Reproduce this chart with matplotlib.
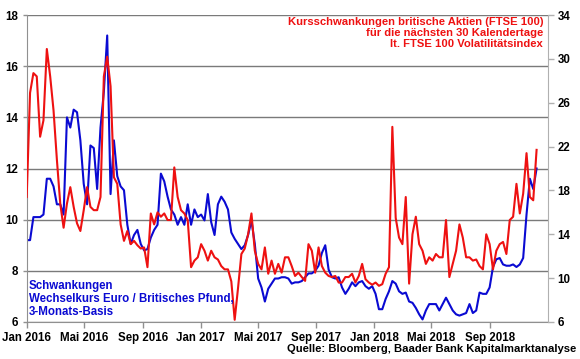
import matplotlib
matplotlib.use("Agg")
import matplotlib.pyplot as plt
import matplotlib.dates as mdates
import pandas as pd
import numpy as np

plt.rcParams['font.family'] = ['Liberation Sans', 'DejaVu Sans']

# Weekly readings, Jan 2016 - early Dec 2018
start_date = "2016-01-01"
end_date = "2018-12-08"

# EUR/GBP 3-month volatility (left axis)
eurgbp_vol = [
    9.2, 9.2, 10.1, 10.1, 10.1, 10.2, 11.6, 11.6, 11.3, 10.6,
    10.6, 10.2, 14.0, 13.6, 14.3, 14.2, 13.1, 11.4, 10.6, 12.9,
    12.8, 11.2, 13.6, 15.0, 17.2, 11.0, 13.1, 11.7, 11.3, 11.15,
    9.8, 9.05, 9.4, 9.6, 9.05, 8.8, 8.85, 9.3, 9.6, 9.8,
    11.8, 11.5, 10.9, 10.4, 10.2, 9.8, 10.1, 9.8, 10.6, 9.8,
    10.4, 10.1, 10.2, 9.97, 11.0, 9.9, 9.4, 10.6, 10.9, 10.7,
    10.4, 9.5, 9.25, 9.05, 8.85, 9.0, 9.4, 9.97, 9.05, 7.7,
    7.35, 6.8, 7.3, 7.5, 7.7, 7.7, 7.75, 7.75, 7.7, 7.5,
    7.55, 7.55, 7.6, 7.75, 7.9, 7.9, 8.0, 8.2, 8.7, 9.0,
    8.05, 7.75, 7.7, 7.75, 7.35, 7.1, 7.3, 7.55, 7.4, 7.55,
    7.6, 7.4, 7.3, 7.4, 7.1, 6.5, 6.5, 6.9, 7.2, 7.6,
    7.5, 7.2, 7.1, 7.15, 6.8, 6.75, 6.55, 6.3, 6.1, 6.45,
    6.7, 6.7, 6.7, 6.45, 6.7, 6.95, 6.7, 6.45, 6.3, 6.25,
    6.3, 6.35, 6.7, 6.35, 6.45, 7.15, 7.1, 7.1, 7.35, 8.15,
    8.45, 8.5, 8.25, 8.2, 8.2, 8.25, 8.15, 8.25, 8.5, 10.2,
    11.6, 11.2, 12.0,
]

# FTSE 100 volatility index (right axis)
ftse_vol = [
    17.4, 26.9, 28.7, 28.4, 22.9, 24.4, 30.9, 28.4, 25.3, 20.8,
    16.8, 14.6, 16.8, 18.3, 16.5, 15.0, 14.3, 16.2, 18.3, 16.5,
    16.2, 16.2, 17.4, 28.4, 30.2, 27.5, 19.2, 18.6, 14.9, 13.4,
    14.3, 13.1, 13.4, 13.0, 12.7, 12.8, 11.0, 15.9, 14.9, 16.0,
    15.6, 15.9, 15.3, 15.3, 20.1, 17.4, 16.2, 15.9, 15.3, 11.0,
    11.6, 11.9, 13.1, 12.5, 11.6, 12.5, 11.9, 11.7, 11.1, 10.8,
    10.8, 9.7, 6.2, 9.1, 12.2, 12.7, 14.0, 15.9, 12.5, 11.3,
    10.8, 12.8, 10.4, 11.6, 10.4, 11.3, 10.5, 11.9, 11.9, 11.1,
    10.2, 10.5, 10.1, 9.75, 13.1, 12.5, 10.5, 12.8, 11.1, 10.5,
    10.2, 10.1, 10.2, 9.6, 9.6, 10.1, 10.1, 10.4, 9.6, 10.2,
    11.3, 9.9, 9.6, 9.4, 9.6, 9.3, 9.45, 10.4, 11.0, 23.8,
    15.5, 13.7, 13.1, 17.4, 9.5, 14.0, 15.6, 13.1, 12.5, 11.3,
    11.9, 11.6, 12.2, 11.9, 11.9, 15.3, 10.1, 11.3, 12.5, 14.9,
    13.7, 11.9, 11.9, 11.6, 11.7, 11.1, 10.8, 14.0, 13.1, 10.8,
    12.5, 13.1, 13.3, 12.2, 15.3, 15.6, 18.6, 15.9, 17.7, 21.4,
    17.4, 17.1, 21.7,
]

tick_dates = ["2016-01-01", "2016-05-01", "2016-09-01", "2017-01-01", "2017-05-01",
              "2017-09-01", "2018-01-01", "2018-05-01", "2018-09-01"]
tick_labels = ["Jan 2016", "Mai 2016", "Sep 2016", "Jan 2017", "Mai 2017",
               "Sep 2017", "Jan 2018", "Mai 2018", "Sep 2018"]
left_ticks = [6, 8, 10, 12, 14, 16, 18]
right_ticks = [6, 10, 14, 18, 22, 26, 30, 34]

ftse_label = "Kursschwankungen britische Aktien (FTSE 100)\nfür die nächsten 30 Kalendertage\nlt. FTSE 100 Volatilitätsindex"
fx_label = "Schwankungen\nWechselkurs Euro / Britisches Pfund,\n3-Monats-Basis"
source = "Quelle: Bloomberg, Baader Bank Kapitalmarktanalyse"

dates = pd.date_range(start_date, end_date, periods=len(eurgbp_vol))

BLUE = "#0a0ad2"
RED = "#ee1111"
GRID = "#7a7a7a"

fig = plt.figure(figsize=(5.8, 3.59), dpi=100)
ax = fig.add_axes([26.7 / 580, 1 - 322 / 359, (548 - 26.7) / 580, (322 - 15) / 359])
ax2 = ax.twinx()

ax.plot(dates, eurgbp_vol, color=BLUE, lw=1.5, solid_joinstyle='round')
ax2.plot(dates, ftse_vol, color=RED, lw=1.5, solid_joinstyle='round')

ax.set_xlim(pd.Timestamp("2016-01-01"), pd.Timestamp("2019-01-01"))
ax.set_ylim(6, 18)
ax2.set_ylim(6, 34)

ax.set_yticks(left_ticks)
ax.set_yticklabels([str(v) for v in left_ticks])
ax2.set_yticks(right_ticks)
ax2.set_yticklabels([str(v) for v in right_ticks])
ax.set_xticks([mdates.date2num(pd.Timestamp(d)) for d in tick_dates])
ax.set_xticklabels(tick_labels)

ax.grid(axis='y', color=GRID, lw=1.0)
ax.set_axisbelow(True)
ax2.set_zorder(ax.get_zorder() + 1)
ax2.patch.set_visible(False)

for a in (ax, ax2):
    a.spines['top'].set_visible(False)
ax.spines['right'].set_visible(False)
ax2.spines['left'].set_visible(False)
ax2.spines['bottom'].set_visible(False)
ax2.spines['right'].set_color('#b0b0b0')
ax.spines['left'].set_color('#909090')
ax.spines['bottom'].set_color('#909090')

ax.tick_params(axis='y', length=3, width=1, color='#909090', pad=3, labelsize=8.3)
ax.tick_params(axis='x', length=4, width=1, color='#909090', pad=3, labelsize=8.3)
ax2.tick_params(axis='y', length=4, width=1, color='#b0b0b0', pad=3, labelsize=8.3)
for lab in ax.get_xticklabels() + ax.get_yticklabels() + ax2.get_yticklabels():
    lab.set_fontweight('bold')

fig.text(543 / 580, 1 - 17 / 359, ftse_label, color=RED, fontsize=8.1, fontweight='bold',
         ha='right', va='top', linespacing=1.12)
fig.text(29 / 580, 1 - 280 / 359, fx_label, color=BLUE, fontsize=8.3, fontweight='bold',
         ha='left', va='top', linespacing=1.12)
fig.text(576 / 580, 1 - 349 / 359, source, color='black', fontsize=8.1, fontweight='bold',
         ha='right', va='center')

fig.savefig("out.png", dpi=100)
